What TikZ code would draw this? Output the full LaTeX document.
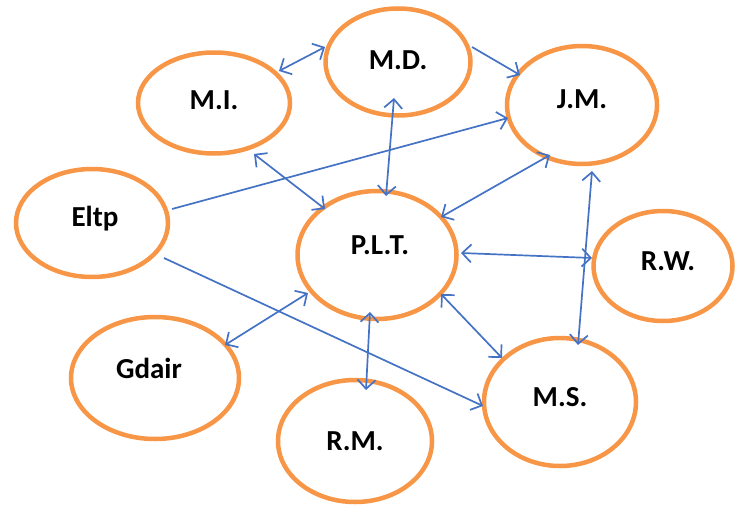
\documentclass[tikz,border=0pt]{standalone}
\usepackage{fontspec}
\setmainfont{Carlito}
\usetikzlibrary{shapes.geometric,arrows.meta}
\definecolor{orng}{RGB}{247,150,70}
\definecolor{blu}{RGB}{68,114,196}
\tikzset{
  circ/.style={draw=orng, line width=4.5pt, ellipse, inner sep=0pt},
  lbl/.style={font=\fontsize{29}{34}\selectfont\bfseries, inner sep=0pt},
  conn/.style={draw=blu, line width=1.7pt, {Straight Barb[length=9pt,width=18pt,line width=1.7pt]}-{Straight Barb[length=9pt,width=18pt,line width=1.7pt]}},
  oneway/.style={draw=blu, line width=1.7pt, -{Straight Barb[length=9pt,width=18pt,line width=1.7pt]}}
}
\begin{document}
\begin{tikzpicture}[x=1pt,y=-1pt]
\useasboundingbox (0,0) rectangle (735,508);
% ellipses
\node[circ, minimum width=152pt, minimum height=101pt] (mi) at (214,103) {};
\node[circ, minimum width=145pt, minimum height=107pt] (md) at (398,62) {};
\node[circ, minimum width=150pt, minimum height=118pt] (jm) at (582,105) {};
\node[circ, minimum width=152pt, minimum height=108pt] (el) at (92,223) {};
\node[circ, minimum width=159pt, minimum height=128pt] (plt) at (377,255) {};
\node[circ, minimum width=139pt, minimum height=110pt] (rw) at (663,266) {};
\node[circ, minimum width=168pt, minimum height=122pt] (gd) at (155,378) {};
\node[circ, minimum width=152pt, minimum height=128pt] (ms) at (560,402) {};
\node[circ, minimum width=154pt, minimum height=122pt] (rm) at (355,441) {};
% labels
\node[lbl] (tmi) at (214,100) {M.I.};
\node[lbl] (tmd) at (398,60) {M.D.};
\node[lbl] (tjm) at (582,99) {J.M.};
\node[lbl] (tel) at (95,219) {Eltp};
\node[lbl] (tplt) at (380,245) {P.L.T.};
\node[lbl] (trw) at (668,261) {R.W.};
\node[lbl] (tgd) at (149,368) {Gdair};
\node[lbl] (tms) at (560,397) {M.S.};
\node[lbl] (trm) at (355,441) {R.M.};
% connector end points
\coordinate (a1) at (279,71);  \coordinate (a2) at (325,47);
\coordinate (b1) at (472,47);  \coordinate (b2) at (520,75);
\coordinate (c1) at (172,209); \coordinate (c2) at (508,118);
\coordinate (d1) at (394,98);  \coordinate (d2) at (386,196);
\coordinate (e1) at (254,154); \coordinate (e2) at (325,209);
\coordinate (f1) at (550,155); \coordinate (f2) at (441,217);
\coordinate (g1) at (461,253); \coordinate (g2) at (592,258);
\coordinate (h1) at (592,171); \coordinate (h2) at (578,345);
\coordinate (i1) at (441,294); \coordinate (i2) at (502,358);
\coordinate (j1) at (164,258); \coordinate (j2) at (483,406);
\coordinate (k1) at (308,293); \coordinate (k2) at (225,345);
\coordinate (l1) at (370,312); \coordinate (l2) at (366,390);
% connectors
\draw[conn] (a1) -- (a2);
\draw[oneway] (b1) -- (b2);
\draw[oneway] (c1) -- (c2);
\draw[conn] (d1) -- (d2);
\draw[conn] (e1) -- (e2);
\draw[conn] (f1) -- (f2);
\draw[conn] (g1) -- (g2);
\draw[conn] (h1) -- (h2);
\draw[conn] (i1) -- (i2);
\draw[oneway] (j1) -- (j2);
\draw[conn] (k1) -- (k2);
\draw[conn] (l1) -- (l2);
\end{tikzpicture}
\end{document}
